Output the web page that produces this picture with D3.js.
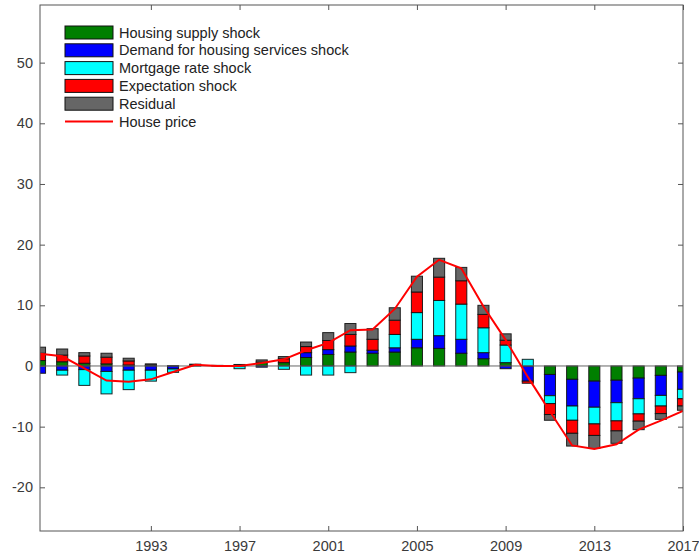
<!DOCTYPE html>
<html>
<head>
<meta charset="utf-8">
<script src="https://cdn.jsdelivr.net/npm/d3@7"></script>
<style>
  body { margin: 0; background: #fff; }
  text { font-family: "Liberation Sans", Arial, sans-serif; }
</style>
</head>
<body>
<svg id="chart"></svg>
<script>
// yearly historical decomposition of house prices
let years = d3.range(1988, 2018);

let supply      = [0.9, 0.7, 0.45, 0.35, 0.17, 0.05, 0, 0.05, 0, 0, 0.65, 0.55, 1.4, 1.9, 2.3, 2.1, 2.3, 3.0, 2.9, 2.1, 1.2, 0.55, 0, -1.4, -2.2, -2.5, -2.35, -2.0, -1.55, -1.0];
let demand      = [-1.2, -0.7, -0.6, -0.9, -0.7, -0.7, -0.5, 0, 0, 0, -0.2, 0, 0.8, 0.8, 1.0, 0.5, 0.7, 1.4, 2.1, 2.3, 1.0, -0.45, -2.5, -3.5, -4.4, -4.3, -3.7, -3.4, -3.3, -2.85];
let mortgage    = [0, -0.8, -2.6, -3.7, -3.2, -1.8, -0.55, 0, 0, -0.45, 0, -0.55, -1.5, -1.5, -1.1, 0, 2.2, 4.4, 5.8, 5.8, 4.1, 2.9, 1.1, -1.3, -2.35, -2.75, -3.0, -2.5, -1.75, -1.55];
let expectation = [1.2, 1.1, 1.2, 1.1, 0.66, 0.1, 0, 0.1, 0.05, 0.15, 0, 0.65, 1.0, 1.5, 1.9, 1.8, 2.35, 3.4, 3.85, 3.85, 2.2, 0.8, -0.35, -1.8, -2.15, -1.9, -1.65, -1.2, -1.25, -1.2];
let residual    = [1.0, 1.0, 0.55, 0.65, 0.45, 0.2, 0.05, 0.15, 0.05, 0.1, 0.35, 0.35, 0.75, 1.3, 1.8, 1.75, 2.05, 2.6, 3.1, 2.2, 1.5, 1.05, 0, -0.95, -2.1, -2.15, -2.05, -1.4, -0.95, -0.7];

let housePrice  = [2.0, 1.6, -0.4, -2.4, -2.6, -2.2, -1.0, 0.2, 0, 0, 0.5, 1.1, 2.6, 3.8, 5.9, 6.0, 9.4, 14.7, 17.5, 16.1, 9.8, 4.3, -1.8, -7.5, -13.1, -13.7, -12.9, -10.5, -9.0, -7.4];

let seriesNames = ['Housing supply shock', 'Demand for housing services shock', 'Mortgage rate shock', 'Expectation shock', 'Residual'];
let seriesKeys = ['supply', 'demand', 'mortgage', 'expectation', 'residual'];
let seriesColors = ['#007f00', '#0000ff', '#00ffff', '#ff0000', '#666666'];

let yTicks = [-20, -10, 0, 10, 20, 30, 40, 50];
let xTicks = [1993, 1997, 2001, 2005, 2009, 2013, 2017];

function makeChart() {
	let w = 699;
	let h = 560;
	let marginT = 5;
	let marginL = 40;
	let marginR = 16;
	let marginB = 29;
	let fontSize = '14.5px';

	let svg = d3.select('#chart')
		.attr('width', w)
		.attr('height', h);

	let xScale = d3.scaleLinear()
		.domain([1988, 2017])
		.range([marginL, w - marginR]);

	let yScale = d3.scaleLinear()
		.domain([-27.2, 59.5])
		.range([h - marginB, marginT]);

	let table = years.map((y, i) => ({
		year: y,
		supply: supply[i],
		demand: demand[i],
		mortgage: mortgage[i],
		expectation: expectation[i],
		residual: residual[i]
	}));

	let stack = d3.stack()
		.keys(seriesKeys)
		.offset(d3.stackOffsetDiverging);
	let series = stack(table);

	svg.append('clipPath').attr('id', 'plotclip')
		.append('rect')
		.attr('x', marginL).attr('y', marginT)
		.attr('width', w - marginL - marginR)
		.attr('height', h - marginT - marginB);

	let plot = svg.append('g').attr('clip-path', 'url(#plotclip)');

	let barW = (xScale(1) - xScale(0)) * 0.5;

	let groups = plot.selectAll('g.series')
		.data(series)
		.enter()
		.append('g')
		.attr('class', 'series')
		.style('fill', (d, i) => seriesColors[i]);

	groups.selectAll('rect')
		.data(d => d)
		.enter()
		.append('rect')
		.attr('x', d => xScale(d.data.year) - barW / 2)
		.attr('y', d => yScale(Math.max(d[0], d[1])))
		.attr('width', barW)
		.attr('height', d => Math.abs(yScale(d[0]) - yScale(d[1])))
		.attr('stroke', '#111')
		.attr('stroke-width', 1)
		.attr('stroke-opacity', d => (d[1] - d[0]) === 0 ? 0 : 0.9);

	// baseline
	plot.append('line')
		.attr('x1', marginL).attr('x2', w - marginR)
		.attr('y1', yScale(0)).attr('y2', yScale(0))
		.attr('stroke', '#666')
		.attr('stroke-width', 1);

	let line = d3.line()
		.x((d, i) => xScale(years[i]))
		.y(d => yScale(d));

	plot.append('path')
		.datum(housePrice)
		.attr('d', line)
		.attr('fill', 'none')
		.attr('stroke', '#ff0000')
		.attr('stroke-width', 2);

	// axes box
	let axisColor = '#555';
	svg.append('rect')
		.attr('x', marginL).attr('y', marginT)
		.attr('width', w - marginL - marginR)
		.attr('height', h - marginT - marginB)
		.attr('fill', 'none')
		.attr('stroke', axisColor)
		.attr('stroke-width', 1);

	let tickLen = 5;
	let yAxisL = svg.append('g')
		.attr('transform', `translate(${marginL},0)`)
		.call(d3.axisLeft(yScale).tickValues(yTicks).tickSize(-tickLen).tickPadding(7)
			.tickFormat(d => String(d)));
	let yAxisR = svg.append('g')
		.attr('transform', `translate(${w - marginR},0)`)
		.call(d3.axisRight(yScale).tickValues(yTicks).tickSize(-tickLen).tickFormat(''));
	let xAxisB = svg.append('g')
		.attr('transform', `translate(0,${h - marginB})`)
		.call(d3.axisBottom(xScale).tickValues(xTicks).tickSize(-tickLen).tickPadding(10).tickFormat(d => String(d)));
	let xAxisT = svg.append('g')
		.attr('transform', `translate(0,${marginT})`)
		.call(d3.axisTop(xScale).tickValues(xTicks).tickSize(-tickLen).tickFormat(''));

	[yAxisL, yAxisR, xAxisB, xAxisT].forEach(a => {
		a.select('.domain').remove();
		a.selectAll('line').attr('stroke', axisColor);
		a.selectAll('text')
			.attr('fill', '#3a3a3a')
			.style('font-size', fontSize);
	});

	// legend
	let legend = svg.append('g').attr('transform', 'translate(65,26)');
	let rowH = 17.8;
	seriesNames.forEach((name, i) => {
		let g = legend.append('g').attr('transform', `translate(0,${i * rowH})`);
		g.append('rect')
			.attr('x', 0).attr('y', 0)
			.attr('width', 48).attr('height', 13)
			.attr('fill', seriesColors[i])
			.attr('stroke', '#111')
			.attr('stroke-width', 1);
		g.append('text')
			.attr('x', 54).attr('y', 11.5)
			.attr('fill', '#222')
			.style('font-size', fontSize)
			.text(name);
	});
	let lg = legend.append('g').attr('transform', `translate(0,${5 * rowH})`);
	lg.append('line')
		.attr('x1', 0).attr('x2', 48)
		.attr('y1', 6.5).attr('y2', 6.5)
		.attr('stroke', '#ff0000')
		.attr('stroke-width', 2);
	lg.append('text')
		.attr('x', 54).attr('y', 11.5)
		.attr('fill', '#222')
		.style('font-size', fontSize)
		.text('House price');
}

window.onload = function () {
	makeChart();
}
</script>
</body>
</html>
